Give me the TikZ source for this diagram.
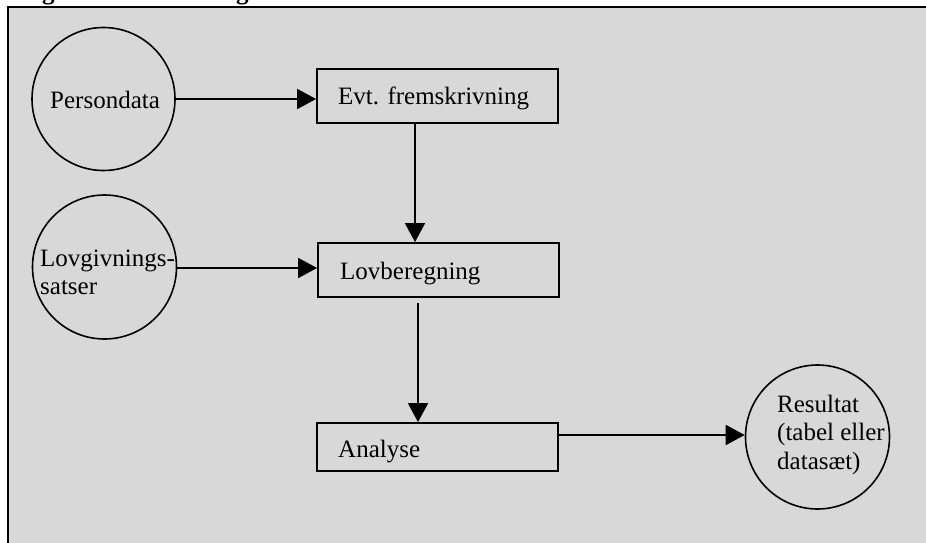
\documentclass[tikz,border=0pt]{standalone}
\usepackage{fontspec}
\setmainfont{Liberation Serif}
\usetikzlibrary{arrows.meta,calc}
\definecolor{panel}{HTML}{D8D8D8}
\tikzset{
  x=1pt, y=-1pt,
  lbl/.style={font=\fontsize{25}{28.5}\selectfont, inner sep=0pt, anchor=base west},
  circ/.style={draw, circle, line width=1.6pt, minimum size=#1, inner sep=0pt},
  stepbox/.style={draw, rectangle, line width=1.8pt, minimum width=241pt, minimum height=#1, inner sep=0pt},
  arr/.style={line width=1.8pt, -{Triangle[length=19pt,width=20pt]}},
  plain/.style={line width=1.8pt}
}
\begin{document}
\begin{tikzpicture}
\useasboundingbox (0,0) rectangle (926,543);
\fill[white] (0,0) rectangle (926,543);
\fill[panel] (8,7) rectangle (926,543);
\draw[line width=2.6pt] (8,543) -- (8,7) -- (926,7);
% cut-off caption fragments
\begin{scope}
  \clip (0,-5) rectangle (926,5.6);
  \node[lbl, font=\fontsize{25}{28}\selectfont\bfseries] (frag1) at (42,-0.5) {g};
  \node[lbl, font=\fontsize{25}{28}\selectfont\bfseries] (frag2) at (236,-0.5) {g};
\end{scope}
% nodes
\node[circ=143pt] (p) at (103.5,99) {};
\node[circ=144pt] (lg) at (104.5,267) {};
\node[circ=144pt] (r) at (817.5,437) {};
\node[stepbox=54pt] (e) at (437.5,96) {};
\node[stepbox=54pt] (l) at (438.5,270) {};
\node[stepbox=48pt] (a) at (437.5,447) {};
% texts
\node[lbl] (tp) at (50,108) {Persondata};
\node[lbl] (tlg1) at (40,266) {Lovgivnings-};
\node[lbl] (tlg2) at (40,294) {satser};
\node[lbl] (te) at (338,104) {Evt. fremskrivning};
\node[lbl] (tl) at (340,279) {Lovberegning};
\node[lbl] (ta) at (338,457) {Analyse};
\node[lbl] (tr1) at (777,412) {Resultat};
\node[lbl] (tr2) at (777,440.5) {(tabel eller};
\node[lbl] (tr3) at (777,469) {datasæt)};
% connectors
\coordinate (c1) at (415,0);
\coordinate (c2) at (418,0);
\coordinate (c3) at (0,435);
\draw[arr] (p.east) -- (p.east -| e.west);
\draw[arr] (lg.east |- 0,268) -- (l.west |- 0,268);
\draw[arr] (e.south -| c1) -- (l.north -| c1);
\draw[arr] ([yshift=-5pt]l.south -| c2) -- (a.north -| c2);
\draw[arr] (a.east |- c3) -- (r.west |- c3);
\end{tikzpicture}
\end{document}
